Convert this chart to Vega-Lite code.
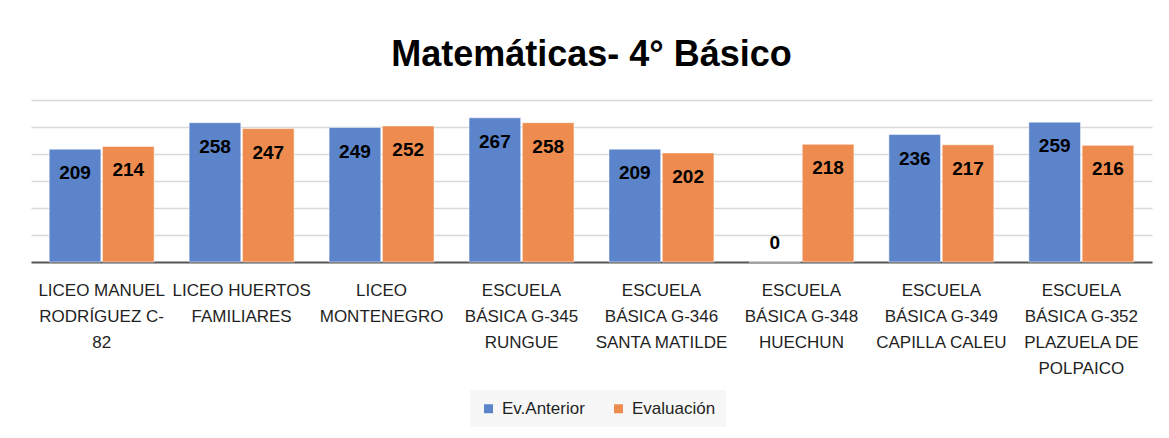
{
  "$schema": "https://vega.github.io/schema/vega-lite/v6.json",
  "width": 1121,
  "height": 162,
  "autosize": {"type": "none"},
  "padding": {"left": 31, "top": 100, "right": 17, "bottom": 176},
  "background": "white",
  "title": {
    "text": "Matemáticas- 4° Básico",
    "font": "Liberation Sans",
    "fontSize": 36,
    "fontWeight": "bold",
    "color": "#000000",
    "anchor": "middle",
    "baseline": "alphabetic",
    "offset": -2
  },
  "config": {"view": {"stroke": null}},
  "data": {
    "values": [
      {"escuela": "LICEO MANUEL|RODRÍGUEZ C-|82", "serie": "Ev.Anterior", "valor": 209},
      {"escuela": "LICEO MANUEL|RODRÍGUEZ C-|82", "serie": "Evaluación", "valor": 214},
      {"escuela": "LICEO HUERTOS|FAMILIARES", "serie": "Ev.Anterior", "valor": 258},
      {"escuela": "LICEO HUERTOS|FAMILIARES", "serie": "Evaluación", "valor": 247},
      {"escuela": "LICEO|MONTENEGRO", "serie": "Ev.Anterior", "valor": 249},
      {"escuela": "LICEO|MONTENEGRO", "serie": "Evaluación", "valor": 252},
      {"escuela": "ESCUELA|BÁSICA G-345|RUNGUE", "serie": "Ev.Anterior", "valor": 267},
      {"escuela": "ESCUELA|BÁSICA G-345|RUNGUE", "serie": "Evaluación", "valor": 258},
      {"escuela": "ESCUELA|BÁSICA G-346|SANTA MATILDE", "serie": "Ev.Anterior", "valor": 209},
      {"escuela": "ESCUELA|BÁSICA G-346|SANTA MATILDE", "serie": "Evaluación", "valor": 202},
      {"escuela": "ESCUELA|BÁSICA G-348|HUECHUN", "serie": "Ev.Anterior", "valor": 0},
      {"escuela": "ESCUELA|BÁSICA G-348|HUECHUN", "serie": "Evaluación", "valor": 218},
      {"escuela": "ESCUELA|BÁSICA G-349|CAPILLA CALEU", "serie": "Ev.Anterior", "valor": 236},
      {"escuela": "ESCUELA|BÁSICA G-349|CAPILLA CALEU", "serie": "Evaluación", "valor": 217},
      {"escuela": "ESCUELA|BÁSICA G-352|PLAZUELA DE|POLPAICO", "serie": "Ev.Anterior", "valor": 259},
      {"escuela": "ESCUELA|BÁSICA G-352|PLAZUELA DE|POLPAICO", "serie": "Evaluación", "valor": 216}
    ]
  },
  "encoding": {
    "x": {
      "field": "escuela",
      "type": "nominal",
      "sort": null,
      "scale": {"paddingInner": 0.25, "paddingOuter": 0.13},
      "axis": {
        "title": null,
        "domainColor": "#595959",
        "domainWidth": 2,
        "ticks": false,
        "labelAngle": 0,
        "labelExpr": "split(datum.value, '|')",
        "labelFont": "Liberation Sans",
        "labelFontSize": 17,
        "labelLineHeight": 26,
        "labelColor": "#1f1f1f",
        "labelPadding": 20,
        "labelBaseline": "top",
        "labelLimit": 0,
        "labelOverlap": false,
        "grid": false
      }
    },
    "xOffset": {
      "field": "serie",
      "type": "nominal",
      "sort": ["Ev.Anterior", "Evaluación"],
      "scale": {"paddingInner": 0.03}
    },
    "y": {
      "field": "valor",
      "type": "quantitative",
      "scale": {"domain": [0, 300], "nice": false},
      "axis": {
        "title": null,
        "labels": false,
        "ticks": false,
        "domain": false,
        "grid": true,
        "values": [0, 50, 100, 150, 200, 250, 300],
        "gridColor": "#d9d9d9",
        "gridWidth": 1.5,
        "minExtent": 0,
        "maxExtent": 0
      }
    }
  },
  "layer": [
    {
      "mark": {"type": "bar", "stroke": "white", "strokeWidth": 1, "strokeOpacity": 0.5},
      "encoding": {
        "color": {
          "field": "serie",
          "type": "nominal",
          "sort": ["Ev.Anterior", "Evaluación"],
          "scale": {"domain": ["Ev.Anterior", "Evaluación"], "range": ["#5B84CB", "#EE8C4F"]},
          "legend": {
            "orient": "none",
            "legendX": 439,
            "legendY": 290,
            "direction": "horizontal",
            "title": null,
            "symbolType": "square",
            "symbolSize": 81,
            "symbolStrokeWidth": 0,
            "labelFont": "Liberation Sans",
            "labelFontSize": 17,
            "labelColor": "#1f1f1f",
            "labelOffset": 5,
            "columnPadding": 25,
            "padding": 10,
            "fillColor": "#f7f7f7"
          }
        }
      }
    },
    {
      "transform": [{"filter": "datum.valor > 0"}],
      "mark": {"type": "text", "baseline": "alphabetic", "dy": 30, "font": "Liberation Sans", "fontSize": 19, "fontWeight": "bold", "color": "#000000"},
      "encoding": {"text": {"field": "valor", "type": "quantitative"}}
    },
    {
      "transform": [{"filter": "datum.valor == 0"}],
      "mark": {"type": "text", "baseline": "alphabetic", "dy": -13, "font": "Liberation Sans", "fontSize": 19, "fontWeight": "bold", "color": "#000000"},
      "encoding": {"text": {"field": "valor", "type": "quantitative"}}
    }
  ]
}
